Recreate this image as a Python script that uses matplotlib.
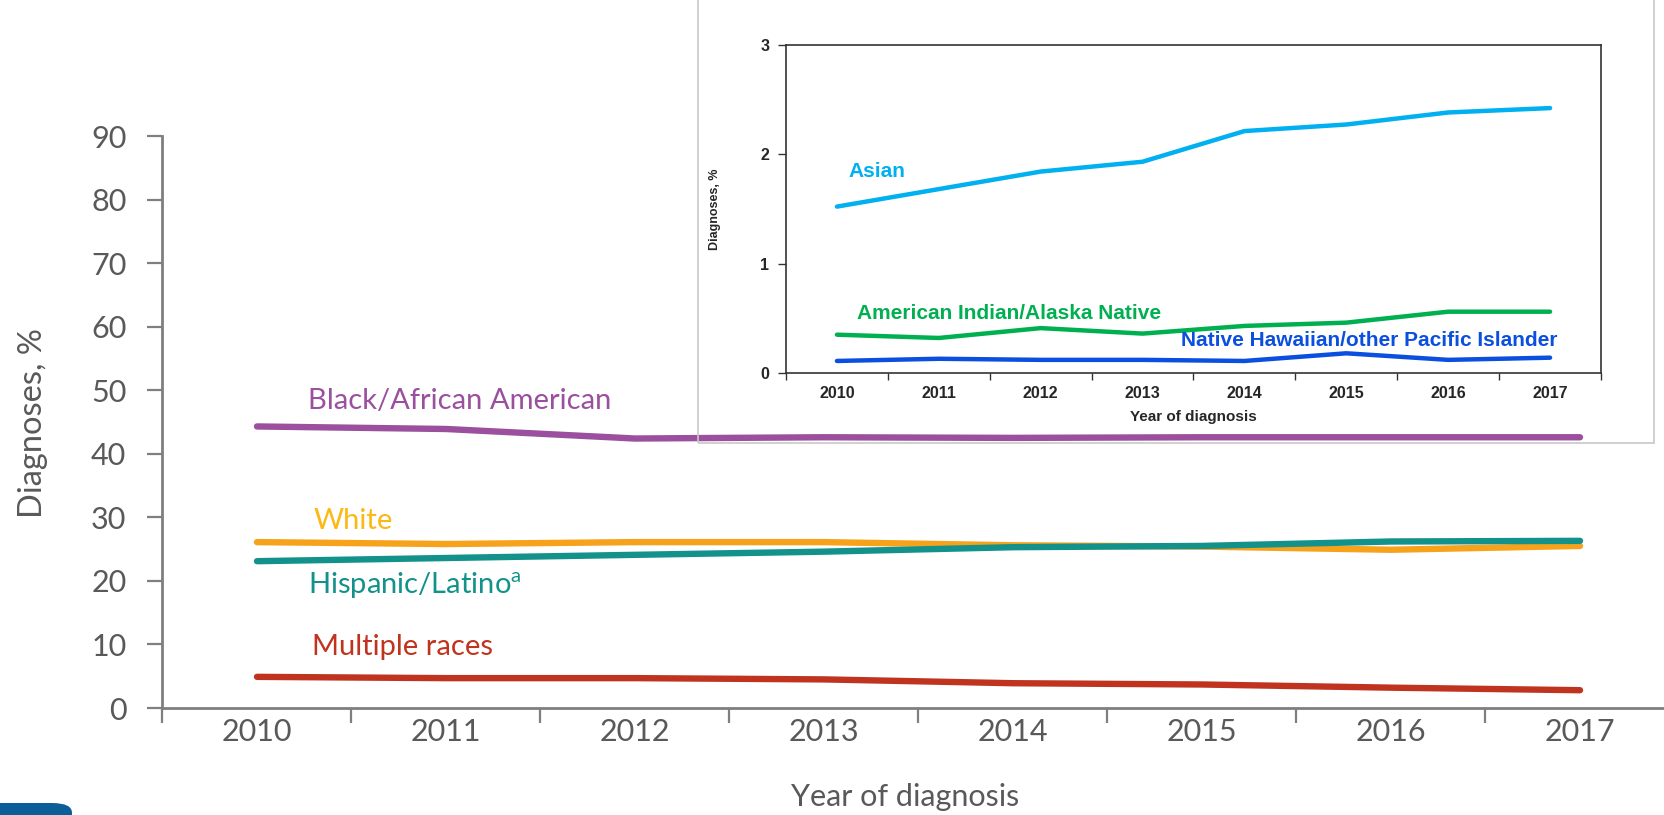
import matplotlib
matplotlib.use("Agg")
import matplotlib.pyplot as plt
from matplotlib import font_manager
from matplotlib.patches import Rectangle, FancyBboxPatch
import numpy as np

YEARS = ["2010", "2011", "2012", "2013", "2014", "2015", "2016", "2017"]

# main panel (%)
BLACK = [44.3, 43.9, 42.4, 42.6, 42.5, 42.6, 42.6, 42.6]
WHITE = [26.1, 25.8, 26.1, 26.1, 25.6, 25.4, 24.9, 25.5]
HISPANIC = [23.1, 23.6, 24.1, 24.6, 25.3, 25.5, 26.2, 26.3]
MULTIPLE = [4.9, 4.7, 4.7, 4.5, 3.9, 3.7, 3.2, 2.8]

# inset panel (%)
ASIAN = [1.52, 1.68, 1.84, 1.93, 2.21, 2.27, 2.38, 2.42]
AIAN = [0.35, 0.32, 0.41, 0.36, 0.43, 0.46, 0.56, 0.56]
NHPI = [0.11, 0.13, 0.12, 0.12, 0.11, 0.18, 0.12, 0.14]

W, H = 1665, 815
avail = {f.name for f in font_manager.fontManager.ttflist}
MAIN_FONT = "Lato" if "Lato" in avail else "DejaVu Sans"
if "Liberation Sans Narrow" in avail:
    NARROW, NSCALE = "Liberation Sans Narrow", 1.2
else:
    NARROW, NSCALE = "Liberation Sans", 1.0
NFAM = [NARROW, "DejaVu Sans"]
plt.rcParams["font.family"] = [MAIN_FONT, "DejaVu Sans"]

GREY = "#595959"
AX = "#7f7f7f"


def fpos(l, b, r, t):
    # pixel box (top-left origin) -> figure fraction
    return [l / W, (H - b) / H, (r - l) / W, (b - t) / H]


fig = plt.figure(figsize=(W / 100, H / 100), dpi=100)

# ---- main panel
ax = fig.add_axes(fpos(162.5, 708, 162.5 + 8 * 189, 136))
x = np.arange(len(YEARS))
series = [(BLACK, "#9b4f9f"), (WHITE, "#f7a21b"), (HISPANIC, "#12928a"), (MULTIPLE, "#c0341f")]
for vals, c in series:
    ax.plot(x, vals, color=c, lw=4.6, solid_capstyle="round", zorder=3)
ax.set_xlim(-0.5, 7.5)
ax.set_ylim(0, 90)
ax.set_yticks(range(0, 91, 10))
ax.set_xticks(x)
ax.set_xticklabels(YEARS)
ax.set_xticks(np.arange(-0.5, 8, 1), minor=True)
ax.tick_params(axis="x", which="major", length=0, pad=7, labelsize=22, labelcolor=GREY)
ax.tick_params(axis="x", which="minor", length=11, width=1.6, color=AX)
ax.tick_params(axis="y", length=11, width=1.6, color=AX, pad=15, labelsize=22, labelcolor=GREY)
for s in ("top", "right"):
    ax.spines[s].set_visible(False)
for s in ("left", "bottom"):
    ax.spines[s].set_color(AX)
    ax.spines[s].set_linewidth(2)
fig.text(905 / W, 1 - 797 / H, "Year of diagnosis", fontsize=22, color=GREY,
         ha="center", va="center")
fig.text(33 / W, 1 - 423 / H, "Diagnoses, %", fontsize=23.5, color=GREY,
         ha="center", va="center", rotation=90)

lab = dict(fontsize=21, ha="left", va="center")
ax.text(0.27, 48.3, "Black/African American", color="#9b4f9f", **lab)
ax.text(0.30, 29.4, "White", color="#fcb813", **lab)
ax.text(0.27, 19.3, "Hispanic/Latino$^{\\mathregular{a}}$", color="#12928a", **lab)
ax.text(0.29, 9.6, "Multiple races", color="#c0341f", **lab)

# ---- inset frame
fig.patches.append(Rectangle((698 / W, (H - 443) / H), (1654 - 698) / W, (443 + 20) / H,
                             transform=fig.transFigure, fill=False, ec="#c8c8c8", lw=1.2))

ins = fig.add_axes(fpos(786, 373, 1601, 44.6))
ins.patch.set_alpha(0)
for vals, c in [(ASIAN, "#00b0f0"), (AIAN, "#00b050"), (NHPI, "#0b4fe0")]:
    ins.plot(x, vals, color=c, lw=3.2, solid_capstyle="round")
ins.set_xlim(-0.5, 7.5)
ins.set_ylim(0, 3)
ins.set_yticks([0, 1, 2, 3])
ins.set_xticks(x)
ins.set_xticklabels(YEARS)
ins.set_xticks(np.arange(-0.5, 8, 1), minor=True)
for s in ins.spines.values():
    s.set_color("#333333")
    s.set_linewidth(1.2)
ins.tick_params(axis="x", which="major", length=0, pad=9)
ins.tick_params(axis="x", which="minor", length=5, width=1, color="#333333")
ins.tick_params(axis="y", length=6, width=1, color="#333333", pad=6)
for t in ins.get_xticklabels() + ins.get_yticklabels():
    t.set_fontfamily(NFAM)
    t.set_fontweight("bold")
    t.set_fontsize(11.5 * NSCALE)
    t.set_color("#262626")
ins.set_xlabel("Year of diagnosis", family=NFAM, fontsize=11 * NSCALE,
               weight="bold", color="#262626", labelpad=7)
ins.set_ylabel("Diagnoses, %", family=NFAM, fontsize=9 * NSCALE,
               weight="bold", color="#262626", labelpad=28)

il = dict(family=NFAM, fontsize=15 * NSCALE, weight="bold", ha="left", va="center")
ins.text(0.11, 1.84, "Asian", color="#00b0f0", **il)
ins.text(0.20, 0.54, "American Indian/Alaska Native", color="#00b050", **il)
ins.text(3.38, 0.30, "Native Hawaiian/other Pacific Islander", color="#0b4fe0", **il)

# corner tab
fig.patches.append(FancyBboxPatch((-20 / W, -15 / H), 92 / W, 27 / H,
                                  boxstyle="round,pad=0,rounding_size=0.012",
                                  transform=fig.transFigure, fc="#0b5e97", ec="none"))

fig.savefig("out.png", dpi=100)
